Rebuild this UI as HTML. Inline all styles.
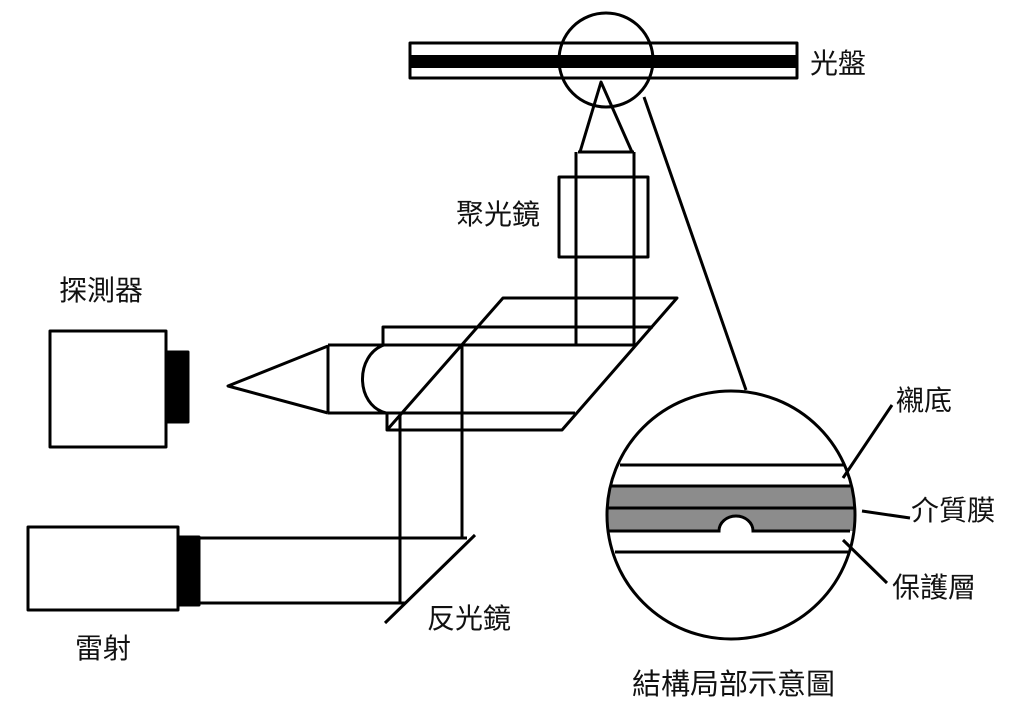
<!DOCTYPE html>
<html><head><meta charset="utf-8"><style>
html,body{margin:0;padding:0;background:#fff;}
svg{display:block;}
text{font-family:"Liberation Sans","Noto Sans CJK TC",sans-serif;fill:#111;}
</style></head><body>
<svg width="1024" height="709" viewBox="0 0 1024 709" xmlns="http://www.w3.org/2000/svg">
<g fill="none" stroke="#000" stroke-width="3" stroke-linejoin="round">
<rect x="410" y="43" width="387" height="35" fill="#fff"/>
<rect x="410" y="55" width="387" height="13" fill="#000" stroke="none"/>
<circle cx="606" cy="60" r="47"/>
<line x1="644" y1="97" x2="746" y2="390"/>
<polyline points="580,152 601,82 632,152"/>
<line x1="578" y1="152" x2="634" y2="152"/>
<line x1="576" y1="152" x2="576" y2="345"/>
<line x1="634" y1="152" x2="634" y2="345"/>
<rect x="559" y="177" width="89" height="80"/>
<polygon points="503,298 677,298 562,430 387,430"/>
<polyline points="383,345 383,327 653,327"/>
<line x1="328" y1="345" x2="636" y2="345"/>
<line x1="328" y1="413" x2="575" y2="413"/>
<line x1="328" y1="345" x2="328" y2="413"/>
<polyline points="328,346 228,386 328,413"/>
<path d="M384,345 C355,355 355,405 386,413"/>
<line x1="387" y1="413" x2="387" y2="430"/>
<line x1="400" y1="413" x2="400" y2="603"/>
<line x1="462" y1="345" x2="462" y2="538"/>
<line x1="199" y1="538" x2="467" y2="538"/>
<line x1="199" y1="603" x2="405" y2="603"/>
<line x1="385" y1="623" x2="475" y2="535"/>
<rect x="50" y="331" width="116" height="116"/>
<rect x="166" y="352" width="22" height="70" fill="#000"/>
<rect x="28" y="527" width="150" height="83"/>
<rect x="178" y="537" width="21" height="68" fill="#000"/>
</g>
<defs><clipPath id="c"><circle cx="731" cy="515" r="124"/></clipPath></defs>
<g clip-path="url(#c)">
<rect x="600" y="486" width="270" height="45" fill="#8c8c8c"/>
<path d="M719,531 A17,15 0 0 1 753,531 Z" fill="#fff"/>
<g stroke="#000" stroke-width="3" fill="none">
<line x1="620" y1="465" x2="845" y2="465"/>
<line x1="600" y1="486" x2="850" y2="486"/>
<line x1="600" y1="508" x2="860" y2="508"/>
<path d="M600,531 L719,531 A17,15 0 0 1 753,531 L850,531"/>
<line x1="615" y1="552" x2="848" y2="552"/>
</g>
</g>
<circle cx="731" cy="515" r="124" fill="none" stroke="#000" stroke-width="3"/>
<g stroke="#000" stroke-width="3">
<line x1="892" y1="405" x2="843" y2="478"/>
<line x1="862" y1="511" x2="910" y2="518"/>
<line x1="843" y1="540" x2="887" y2="583"/>
</g>
<g font-size="28">
<text x="810" y="73">光盤</text>
<text x="456" y="224">聚光鏡</text>
<text x="59" y="300">探測器</text>
<text x="75" y="658">雷射</text>
<text x="427" y="628">反光鏡</text>
<text x="896" y="410">襯底</text>
<text x="911" y="520">介質膜</text>
<text x="892" y="597">保護層</text>
<text x="632" y="694" font-size="29">結構局部示意圖</text>
</g>
</svg>
</body></html>
